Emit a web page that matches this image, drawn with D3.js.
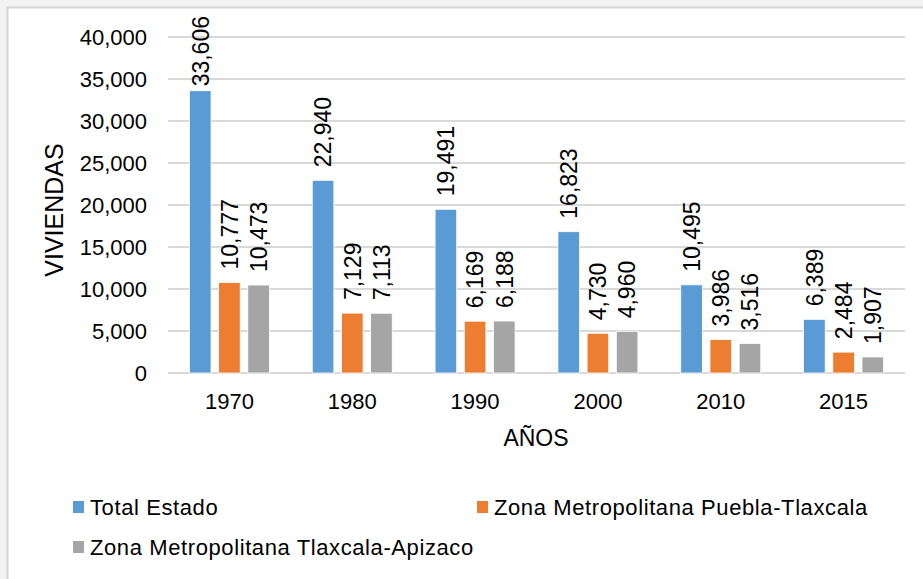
<!DOCTYPE html>
<html>
<head>
<meta charset="utf-8">
<script src="https://cdn.jsdelivr.net/npm/d3@7"></script>
<style>
  body { margin: 0; background: #f3f3f3; }
  svg { display: block; font-family: "Liberation Sans", Arial, sans-serif; }
</style>
</head>
<body>
<div id="chart"></div>
<script>
let width = 923,
    height = 579;

// data
let years = ["1970", "1980", "1990", "2000", "2010", "2015"];
let seriesNames = ["Total Estado", "Zona Metropolitana Puebla-Tlaxcala", "Zona Metropolitana Tlaxcala-Apizaco"];
let totalEstado = [33606, 22940, 19491, 16823, 10495, 6389];
let zmPuebla = [10777, 7129, 6169, 4730, 3986, 2484];
let zmApizaco = [10473, 7113, 6188, 4960, 3516, 1907];
let yTicks = [0, 5000, 10000, 15000, 20000, 25000, 30000, 35000, 40000];
let colors = ["#5b9bd5", "#ed7d31", "#a5a5a5"];

let allSeries = [totalEstado, zmPuebla, zmApizaco];

let svg = d3.select("#chart")
    .append("svg")
    .attr("width", width)
    .attr("height", height);

// chart frame (white area with light border)
svg.append("rect")
    .attr("x", 7.5)
    .attr("y", 7.5)
    .attr("width", width + 20)
    .attr("height", height + 20)
    .style("fill", "#fff")
    .style("stroke", "#d6d6d6")
    .style("stroke-width", 2);

let plotLeft = 168, plotRight = 905, plotTop = 37, plotBottom = 373;

let x = d3.scaleBand()
    .domain(years)
    .range([plotLeft, plotRight]);

let x1 = d3.scaleBand()
    .domain([0, 1, 2])
    .range([0, 80])
    .paddingInner(0.26)
    .paddingOuter(0);

let y = d3.scaleLinear()
    .domain([0, 40000])
    .range([plotBottom, plotTop]);

let fmt = d3.format(",");

// gridlines
svg.append("g")
    .selectAll("line")
    .data(yTicks)
    .enter()
    .append("line")
    .attr("x1", plotLeft)
    .attr("x2", plotRight)
    .attr("y1", d => y(d))
    .attr("y2", d => y(d))
    .style("stroke", "#d9d9d9")
    .style("stroke-width", 2);

// y axis (labels only)
let yAxis = svg.append("g")
    .attr("transform", "translate(" + (plotLeft - 21) + ",0)")
    .call(d3.axisLeft(y).tickValues(yTicks).tickFormat(fmt).tickSize(0).tickPadding(0));
yAxis.select(".domain").remove();
yAxis.selectAll("text")
    .style("font-size", "22px")
    .style("fill", "#000")
    .style("font-family", "Liberation Sans, Arial, sans-serif");

// x axis (labels only)
let xAxis = svg.append("g")
    .attr("transform", "translate(0," + plotBottom + ")")
    .call(d3.axisBottom(x).tickSize(0).tickPadding(20));
xAxis.select(".domain").remove();
xAxis.selectAll("text")
    .style("font-size", "22px")
    .style("fill", "#000")
    .style("font-family", "Liberation Sans, Arial, sans-serif");

// bars
let groupOffset = (x.bandwidth() - x1.range()[1]) / 2;
let groups = svg.append("g")
    .selectAll("g")
    .data(years)
    .enter()
    .append("g")
    .attr("transform", d => "translate(" + (x(d) + groupOffset) + ",0)");

groups.selectAll("rect")
    .data((d, i) => allSeries.map((s, k) => ({k: k, v: s[i]})))
    .enter()
    .append("rect")
    .attr("x", d => x1(d.k))
    .attr("width", x1.bandwidth())
    .attr("y", d => y(d.v))
    .attr("height", d => plotBottom - y(d.v))
    .style("fill", d => colors[d.k])
    .style("stroke", "#fff")
    .style("stroke-width", 0.8);

// value labels, rotated
groups.selectAll("text")
    .data((d, i) => allSeries.map((s, k) => ({k: k, v: s[i]})))
    .enter()
    .append("text")
    .text(d => fmt(d.v))
    .style("font-size", "23px")
    .style("fill", "#000")
    .attr("text-anchor", "start")
    .attr("dy", "0.36em")
    .attr("transform", function(d) {
        let len = this.getComputedTextLength();
        let py = y(d.v) - 13;
        if (py - len < 16) py = 16 + len; // keep inside chart top
        return "translate(" + (x1(d.k) + x1.bandwidth() / 2) + "," + py + ") rotate(-90)";
    });

// axis titles
svg.append("text")
    .attr("transform", "translate(63,210) rotate(-90)")
    .attr("text-anchor", "middle")
    .style("font-size", "25px")
    .text("VIVIENDAS");

svg.append("text")
    .attr("x", 536)
    .attr("y", 446)
    .attr("text-anchor", "middle")
    .style("font-size", "23px")
    .text("AÑOS");

// legend
let legendPos = [[73, 515], [477, 515], [73, 555]];
let legend = svg.append("g")
    .selectAll("g")
    .data(seriesNames)
    .enter()
    .append("g")
    .attr("transform", (d, i) => "translate(" + legendPos[i][0] + "," + legendPos[i][1] + ")");

legend.append("rect")
    .attr("x", 0)
    .attr("y", -14)
    .attr("width", 11)
    .attr("height", 12)
    .style("fill", (d, i) => colors[i]);

legend.append("text")
    .attr("x", 17)
    .attr("y", 0)
    .style("font-size", "22px")
    .style("letter-spacing", "0.6px")
    .text(d => d);
</script>
</body>
</html>
